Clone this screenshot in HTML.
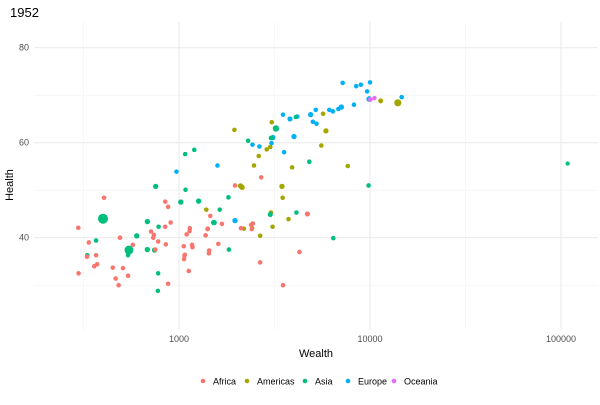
<!DOCTYPE html>
<html><head><meta charset="utf-8"><style>
body{margin:0;background:#fff;font-family:"Liberation Sans",sans-serif}
svg text{font-family:"Liberation Sans",sans-serif}
</style></head><body>
<svg id="chart" width="600" height="400" xmlns="http://www.w3.org/2000/svg">
<text x="10" y="17" font-size="13" fill="#000">1952</text>
<g id="grid"></g>
<g id="pts"></g>
<g id="axes"></g>
<text x="316" y="357" font-size="11" text-anchor="middle">Wealth</text>
<text transform="translate(13,185) rotate(-90)" font-size="11" text-anchor="middle">Health</text>
<g id="legend"></g>
</svg>
<script>
const continents=["Africa","Americas","Asia","Europe","Oceania"];
const colors=["#F8766D","#A3A500","#00BF7D","#00B0F6","#E76BF3"];
const xTicks=[1000,10000,100000];
const xMinor=[316.2,3162,31623];
const yTicks=[40,60,80];
const yMinor=[30,50,70];
// gdp per capita
const gdp=[
7194,8470,8960,10000,9660,9910,14650,7080,6830,6390,6120,5200,4890,8240,3505,3810,4160,5020,5250,3100,4000,2425,2635,3050,3550,1590,970,1965,
10040,10557,
11367,13990,5680,3060,5880,1950,5560,2880,3005,2615,2470,3910,7650,2100,2140,3460,3490,1390,3030,3745,2185,2415,3090,2660,
3217,4087,3030,2300,1077,1202,755,1082,1022,1267,1815,1634,4810,9830,108382,400,683,782,601,368,547,541,683,745,331,1517,1530,1825,3005,4120,6425,778,775,
405,847,877,904,847,714,739,733,778,491,337,297,573,368,330,360,373,298,450,509,466,541,483,853,752,1140,1136,1097,1414,1410,1458,1678,1378,1059,1171,1176,1606,1439,1433,1072,1068,1063,1125,877,1965,2695,2110,2385,2435,2405,4700,4270,2660,3505];
// life expectancy
const life=[
72.6,71.9,72.2,72.7,70.8,69.2,69.6,67.5,67.1,66.6,66.9,66.9,65.9,68,65.9,65,65.5,64.4,64,61.1,61.3,59.6,59.2,59.9,58,55.2,53.9,43.6,
69.1,69.4,
68.8,68.4,66.1,64.3,62.5,62.7,59.4,58.6,59.1,57.2,55.2,54.8,55.1,50.9,50.6,50.8,48.4,45.9,45.3,43.9,41.9,42,42.3,40.4,
63,65.4,61,60.4,57.6,58.5,50.8,50.1,47.5,47.7,48.5,45.9,56,51,55.6,44,43.4,42.3,40.4,39.4,37.4,36.3,37.5,37.4,36.3,43.2,43.2,37.5,44.9,45.3,39.9,32.5,28.8,
48.4,47.6,46.5,43.2,42.3,41.3,40.6,40,39.2,40,39,42.1,38.5,36.3,36,34,34.4,32.5,33.7,33.6,31.4,32,30,38.6,37.5,42,41.4,40.7,41.9,41.8,44.6,42.9,40.5,38.2,38.5,38,38.7,37.3,36.7,36.4,36.2,35.5,33,30.3,51,52.7,42,42.7,43,41.8,45,37,34.8,30];
// population (millions)
const pop=[
5,5,5,5,5,50,5,30,5,5,5,5,25,5,5,20,5,5,5,25,30,5,5,5,5,5,5,30,
8,2,
14,157,5,5,25,5,5,5,5,5,5,5,5,30,30,30,5,5,5,5,5,5,5,5,
86,2,5,5,5,5,30,5,30,30,5,5,5,5,0.2,556,30,5,30,5,372,5,30,30,5,20,20,5,20,5,5,5,5,
5,5,5,5,5,5,5,5,5,5,5,5,5,5,5,5,5,5,5,5,5,5,5,5,5,5,5,5,5,5,5,5,5,5,5,5,5,5,5,5,5,5,5,5,5,5,5,5,5,5,22,5,5,5];
// continent index
const cont=[].concat(Array(28).fill(3),Array(2).fill(4),Array(24).fill(1),Array(33).fill(2),Array(gdp.length-87).fill(0));

const NS="http://www.w3.org/2000/svg";
const L=34,R=598,T=22,B=330;
const X=v=>179+191*(Math.log10(v)-3);
const Y=v=>237.7-4.75*(v-40);
function mk(tag,attrs,parent){const e=document.createElementNS(NS,tag);for(const k in attrs)e.setAttribute(k,attrs[k]);parent.appendChild(e);return e;}
const grid=document.getElementById('grid'),axes=document.getElementById('axes'),pts=document.getElementById('pts'),leg=document.getElementById('legend');
yMinor.forEach(v=>{const l=mk('line',{x1:L,x2:R,y1:Y(v),y2:Y(v),stroke:'#f2f2f2','stroke-width':0.6},grid);

});
xMinor.forEach(v=>{const l=mk('line',{x1:X(v),x2:X(v),y1:T,y2:B,stroke:'#f2f2f2','stroke-width':0.6},grid);

});
yTicks.forEach(v=>{const l=mk('line',{x1:L,x2:R,y1:Y(v),y2:Y(v),stroke:'#ebebeb','stroke-width':1.1},grid);


const t=mk('text',{x:29,y:Y(v)+3,'font-size':9,fill:'#4d4d4d','text-anchor':'end'},axes);t.textContent=v;

});
xTicks.forEach(v=>{const l=mk('line',{x1:X(v),x2:X(v),y1:T,y2:B,stroke:'#ebebeb','stroke-width':1.1},grid);


const t=mk('text',{x:X(v),y:342,'font-size':9,fill:'#4d4d4d','text-anchor':'middle'},axes);t.textContent=v;

});
gdp.forEach((g,i)=>{const ci=cont[i]===undefined?0:cont[i];const p=pop[i]===undefined?5:pop[i];
const c=mk('circle',{cx:X(g),cy:Y(life[i]),r:2+3*Math.sqrt(p/556),fill:colors[ci]},pts);

});
const lx=[203,247,305,348,394];
continents.forEach((n,i)=>{const c=mk('circle',{cx:lx[i],cy:381,r:2.3,fill:colors[i]},leg);


const t=mk('text',{x:lx[i]+10,y:384.5,'font-size':9,fill:'#000'},leg);t.textContent=n;

});
</script>
</body></html>
